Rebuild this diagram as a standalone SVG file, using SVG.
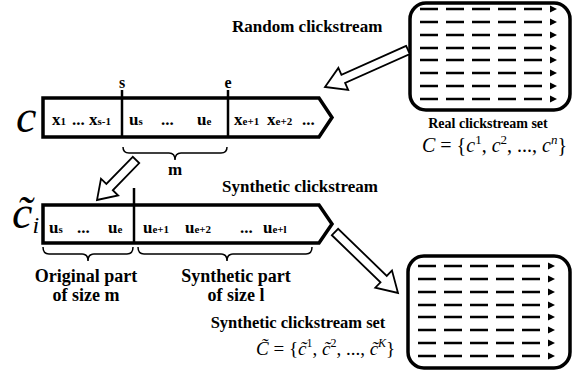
<svg xmlns="http://www.w3.org/2000/svg" xmlns:xlink="http://www.w3.org/1999/xlink" width="573" height="375" viewBox="0 0 573 375">
<style>
.b{font-family:"Liberation Serif","DejaVu Serif",serif;font-weight:bold;fill:#000}
.m{font-family:"Liberation Serif","DejaVu Serif",serif;font-style:italic;fill:#000}
.mu{font-family:"Liberation Serif","DejaVu Serif",serif;font-style:normal;fill:#000}
.bar{fill:#fff;stroke:#000;stroke-width:3.5;stroke-linejoin:miter}
.div{stroke:#000;stroke-width:2.5}
.brace{fill:none;stroke:#000;stroke-width:1.5}
.harrow{fill:#fff;stroke:#000;stroke-width:1.8;stroke-linejoin:miter}
.box{fill:#fff;stroke:#000;stroke-width:3.5}
.dash{stroke:#000;stroke-width:2.6;stroke-dasharray:18 8}
.sub{font-size:11px}
</style>
<defs>
<g id="row">
<line class="dash" x1="0" y1="0" x2="122" y2="0"/>
<polygon points="130,-3.5 137,0 130,3.5" fill="#000"/>
</g>
</defs>

<g id="real-set">
<rect class="box" x="410" y="3" width="160" height="107" rx="16"/>
<use xlink:href="#row" x="420" y="9"/>
<use xlink:href="#row" x="420" y="22"/>
<use xlink:href="#row" x="420" y="35"/>
<use xlink:href="#row" x="420" y="48"/>
<use xlink:href="#row" x="420" y="60"/>
<use xlink:href="#row" x="420" y="73"/>
<use xlink:href="#row" x="420" y="86"/>
<use xlink:href="#row" x="420" y="99"/>
<text class="b" x="488" y="128" font-size="14" text-anchor="middle">Real clickstream set</text>
<text class="m" x="422" y="152" font-size="20">C<tspan class="mu"> = {</tspan>c<tspan class="mu" font-size="13" dy="-8">1</tspan><tspan class="mu" dy="8">, </tspan>c<tspan class="mu" font-size="13" dy="-8">2</tspan><tspan class="mu" dy="8">, ..., </tspan>c<tspan font-size="13" dy="-8">n</tspan><tspan class="mu" dy="8">}</tspan></text>
</g>

<g id="random-label">
<text class="b" x="232" y="32" font-size="17">Random clickstream</text>
</g>

<g id="clickstream-c">
<text class="m" x="16" y="132" font-size="46">c</text>
<polygon class="bar" points="43,98 319,98 332,117.5 319,137 43,137"/>
<line class="div" x1="122" y1="90" x2="122" y2="137"/>
<line class="div" x1="228" y1="90" x2="228" y2="137"/>
<text class="b" x="122" y="88" font-size="16" text-anchor="middle">s</text>
<text class="b" x="228" y="88" font-size="16" text-anchor="middle">e</text>
<text class="b" x="52" y="125" font-size="17">x<tspan class="sub">1</tspan></text>
<text class="b" x="72" y="125" font-size="17">...</text>
<text class="b" x="89" y="125" font-size="17">x<tspan class="sub">s-1</tspan></text>
<text class="b" x="129" y="125" font-size="17">u<tspan class="sub">s</tspan></text>
<text class="b" x="161" y="125" font-size="17">...</text>
<text class="b" x="197" y="125" font-size="17">u<tspan class="sub">e</tspan></text>
<text class="b" x="234" y="125" font-size="17">x<tspan class="sub">e+1</tspan></text>
<text class="b" x="267" y="125" font-size="17">x<tspan class="sub">e+2</tspan></text>
<text class="b" x="302" y="125" font-size="17">...</text>
<path class="brace" d="M123,147 Q123,153 129,153 L169,153 Q175,153 175,160 Q175,153 181,153 L221,153 Q227,153 227,147"/>
<text class="b" x="175" y="175" font-size="17" text-anchor="middle">m</text>
</g>

<g id="synthetic-label">
<text class="b" x="222" y="192" font-size="17">Synthetic clickstream</text>
</g>

<g id="clickstream-ci">
<text class="m" x="12" y="228" font-size="46">c&#771;<tspan font-size="24" dy="5">i</tspan></text>
<polygon class="bar" points="43,205 319,205 332,224 319,243 43,243"/>
<line class="div" x1="134" y1="188" x2="134" y2="243"/>
<text class="b" x="49" y="233" font-size="17">u<tspan class="sub">s</tspan></text>
<text class="b" x="77" y="233" font-size="17">...</text>
<text class="b" x="108" y="233" font-size="17">u<tspan class="sub">e</tspan></text>
<text class="b" x="143" y="233" font-size="17">u<tspan class="sub">e+1</tspan></text>
<text class="b" x="185" y="233" font-size="17">u<tspan class="sub">e+2</tspan></text>
<text class="b" x="240" y="233" font-size="17">...</text>
<text class="b" x="263" y="233" font-size="17">u<tspan class="sub">e+l</tspan></text>
<path class="brace" d="M43,247 Q43,254 49,254 L82,254 Q88,254 88,261 Q88,254 94,254 L127,254 Q133,254 133,247"/>
<path class="brace" d="M138,247 Q138,254 144,254 L221,254 Q227,254 227,261 Q227,254 233,254 L306,254 Q312,254 312,247"/>
<text class="b" x="86" y="282" font-size="18" text-anchor="middle">Original part</text>
<text class="b" x="86" y="301" font-size="18" text-anchor="middle">of size m</text>
<text class="b" x="236" y="282" font-size="18" text-anchor="middle">Synthetic part</text>
<text class="b" x="236" y="301" font-size="18" text-anchor="middle">of size l</text>
</g>

<g id="synthetic-set">
<rect class="box" x="408" y="256" width="162" height="112" rx="16"/>
<use xlink:href="#row" x="418" y="266"/>
<use xlink:href="#row" x="418" y="279"/>
<use xlink:href="#row" x="418" y="292"/>
<use xlink:href="#row" x="418" y="305"/>
<use xlink:href="#row" x="418" y="317"/>
<use xlink:href="#row" x="418" y="330"/>
<use xlink:href="#row" x="418" y="343"/>
<use xlink:href="#row" x="418" y="356"/>
<text class="b" x="298" y="328" font-size="16.5" text-anchor="middle">Synthetic clickstream set</text>
<text class="m" x="256" y="355" font-size="19">C&#771;<tspan class="mu"> = {</tspan>c&#771;<tspan class="mu" font-size="12" dy="-8">1</tspan><tspan class="mu" dy="8">, </tspan>c&#771;<tspan class="mu" font-size="12" dy="-8">2</tspan><tspan class="mu" dy="8">, ..., </tspan>c&#771;<tspan font-size="12" dy="-8">K</tspan><tspan class="mu" dy="8">}</tspan></text>
</g>

<g id="connectors">
<polygon class="harrow" points="406.17,45.89 341.44,74.75 338.38,67.9 325,87 348.16,89.82 345.1,82.97 409.83,54.11"/>
<polygon class="harrow" points="132.78,156.86 106.35,183.97 100.98,178.73 97,200 118.16,195.49 112.79,190.25 139.22,163.14"/>
<polygon class="harrow" points="331.87,235.23 380.5,282.32 375.28,287.71 398,293 391.98,270.47 386.76,275.86 338.13,228.77"/>
</g>
</svg>
